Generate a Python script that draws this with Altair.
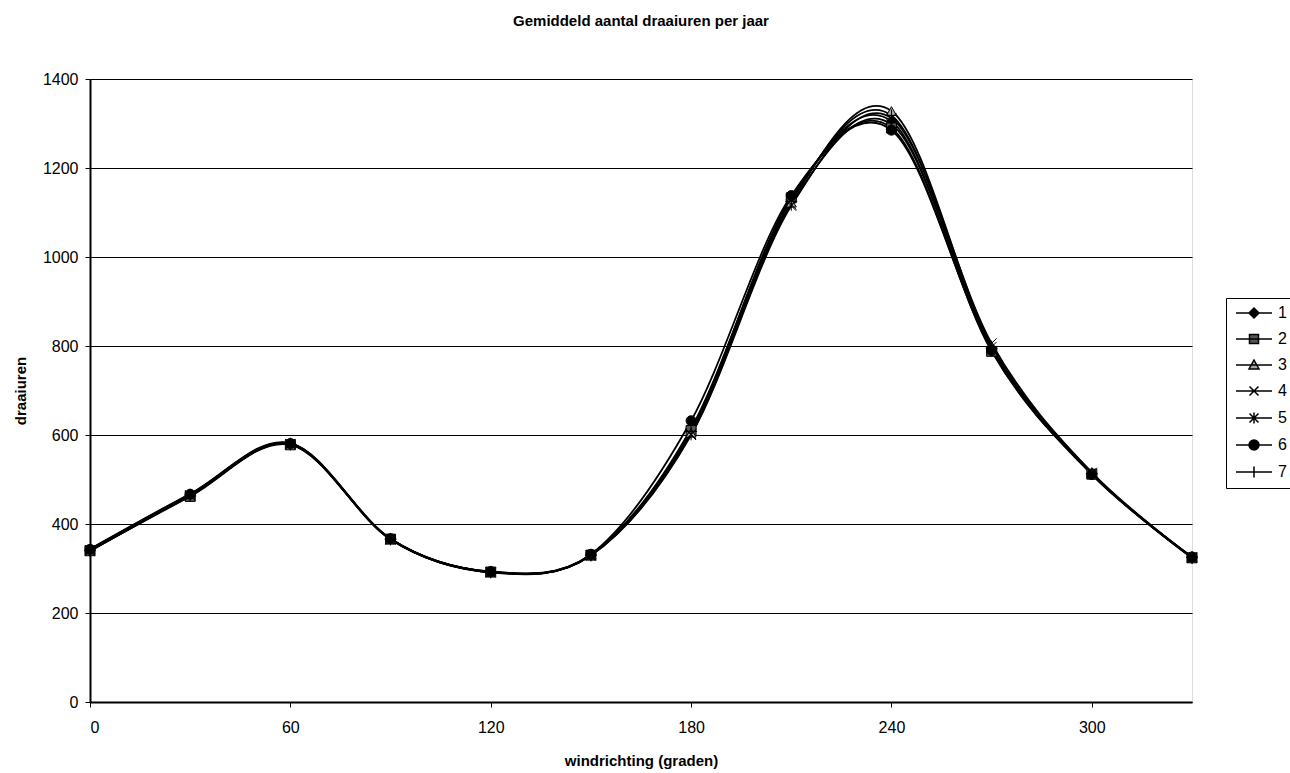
import altair as alt
import pandas as pd

# ---- data ----
angles = [0, 30, 60, 90, 120, 150, 180, 210, 240, 270, 300, 330]
series_names = ["1", "2", "3", "4", "5", "6", "7"]
s1 = [342, 466, 580, 366, 292, 331, 615, 1130, 1305, 792, 514, 325]
s2 = [340, 462, 578, 366, 292, 330, 610, 1133, 1290, 788, 512, 324]
s3 = [344, 468, 582, 367, 293, 331, 605, 1122, 1328, 800, 516, 326]
s4 = [339, 464, 579, 365, 291, 329, 600, 1115, 1312, 806, 515, 325]
s5 = [341, 465, 580, 366, 292, 330, 602, 1118, 1298, 798, 513, 324]
s6 = [343, 467, 581, 367, 293, 332, 632, 1138, 1285, 790, 511, 326]
s7 = [340, 463, 579, 366, 292, 330, 608, 1125, 1318, 795, 513, 325]
x_ticks = [0, 60, 120, 180, 240, 300]
y_ticks = [0, 200, 400, 600, 800, 1000, 1200, 1400]

title_text = "Gemiddeld aantal draaiuren per jaar"
x_title = "windrichting (graden)"
y_title = "draaiuren"

all_series = [s1, s2, s3, s4, s5, s6, s7]
rows = []
for name, vals in zip(series_names, all_series):
    for a, v in zip(angles, vals):
        rows.append({"angle": a, "value": v, "series": name})
df = pd.DataFrame(rows)

FONT = "Liberation Sans"

# marker shapes (chart)
marker_paths = [
    "diamond",
    "square",
    "triangle-up",
    "M-1,-1L1,1M-1,1L1,-1",
    "M-1,-1L1,1M-1,1L1,-1M0,-1.25V1.25",
    "circle",
    "M0,-1.2V1.2M-1.2,0H1.2",
]
# legend shapes (line + marker)
L = "M-3.6,0H3.6"
legend_paths = [
    L + "M0,-1L1,0L0,1L-1,0Z",
    L + "M-0.9,-0.9H0.9V0.9H-0.9Z",
    L + "M0,-1L1,0.8H-1Z",
    L + "M-0.9,-0.9L0.9,0.9M-0.9,0.9L0.9,-0.9",
    L + "M-0.9,-0.9L0.9,0.9M-0.9,0.9L0.9,-0.9M0,-1.1V1.1",
    L + "M-1,0A1,1,0,1,1,1,0A1,1,0,1,1,-1,0Z",
    L + "M0,-1.1V1.1",
]
fill_colors = ["black", "#555555", "#aaaaaa", "black", "black", "black", "black"]
stroke_colors = ["black"] * 7

x_enc = alt.X(
    "angle:Q",
    scale=alt.Scale(domain=[0, 330], nice=False, zero=False),
    axis=alt.Axis(
        values=x_ticks,
        title=x_title,
        grid=False,
        tickSize=5,
        tickColor="black",
        domainColor="black",
        domainWidth=2,
        labelFontSize=16,
        labelFont=FONT,
        labelColor="black",
        labelPadding=12,
        titleFont=FONT,
        titleFontSize=15,
        titleFontWeight="bold",
        titleColor="black",
        titlePadding=18,
    ),
)
y_enc = alt.Y(
    "value:Q",
    scale=alt.Scale(domain=[0, 1400], nice=False),
    axis=alt.Axis(
        values=y_ticks,
        format="d",
        title=y_title,
        grid=True,
        gridColor="black",
        gridWidth=1,
        tickSize=5,
        tickColor="black",
        domainColor="black",
        domainWidth=2,
        labelFontSize=16,
        labelFont=FONT,
        labelColor="black",
        labelPadding=7,
        titleFont=FONT,
        titleFontSize=15,
        titleFontWeight="bold",
        titleColor="black",
        titlePadding=14,
    ),
)

base = alt.Chart(df)

lines = base.mark_line(
    interpolate="cardinal", tension=0, color="black", strokeWidth=1.8
).encode(x=x_enc, y=y_enc, detail="series:N")

points = base.mark_point(
    filled=True, stroke="black", strokeWidth=1, size=100, opacity=1
).encode(
    x=x_enc,
    y=y_enc,
    shape=alt.Shape("series:N", scale=alt.Scale(domain=series_names, range=marker_paths), legend=None),
    fill=alt.Fill("series:N", scale=alt.Scale(domain=series_names, range=fill_colors), legend=None),
)

leg = alt.Legend(
    title=None,
    orient="none",
    legendX=1136,
    legendY=219,
    strokeColor="black",
    fillColor="white",
    padding=7,
    symbolSize=100,
    symbolOffset=13,
    symbolStrokeWidth=1.5,
    labelOffset=16,
    labelFontSize=16,
    labelFont=FONT,
    labelColor="black",
    rowPadding=10,
)

legend_layer = base.transform_filter("datum.angle < 0").mark_point(
    filled=True, strokeWidth=1.5, opacity=1
).encode(
    x=x_enc,
    y=y_enc,
    shape=alt.Shape("series:N", scale=alt.Scale(domain=series_names, range=legend_paths), legend=leg),
    fill=alt.Fill("series:N", scale=alt.Scale(domain=series_names, range=fill_colors), legend=leg),
    stroke=alt.Stroke("series:N", scale=alt.Scale(domain=series_names, range=stroke_colors), legend=leg),
)

chart = (
    alt.layer(lines, points, legend_layer)
    .resolve_scale(shape="independent", fill="independent", stroke="independent")
    .properties(
        width=1102,
        height=623,
        autosize="none",
        padding={"left": 90, "top": 79, "right": 98, "bottom": 71},
        title=alt.TitleParams(
            title_text,
            font=FONT,
            fontSize=15,
            fontWeight="bold",
            color="black",
            anchor="middle",
            offset=42,
        ),
    )
    .configure_view(stroke="black", strokeWidth=1)
    .configure(background="white")
)

chart.save("out.html", embed_options={"renderer": "svg", "actions": False})
